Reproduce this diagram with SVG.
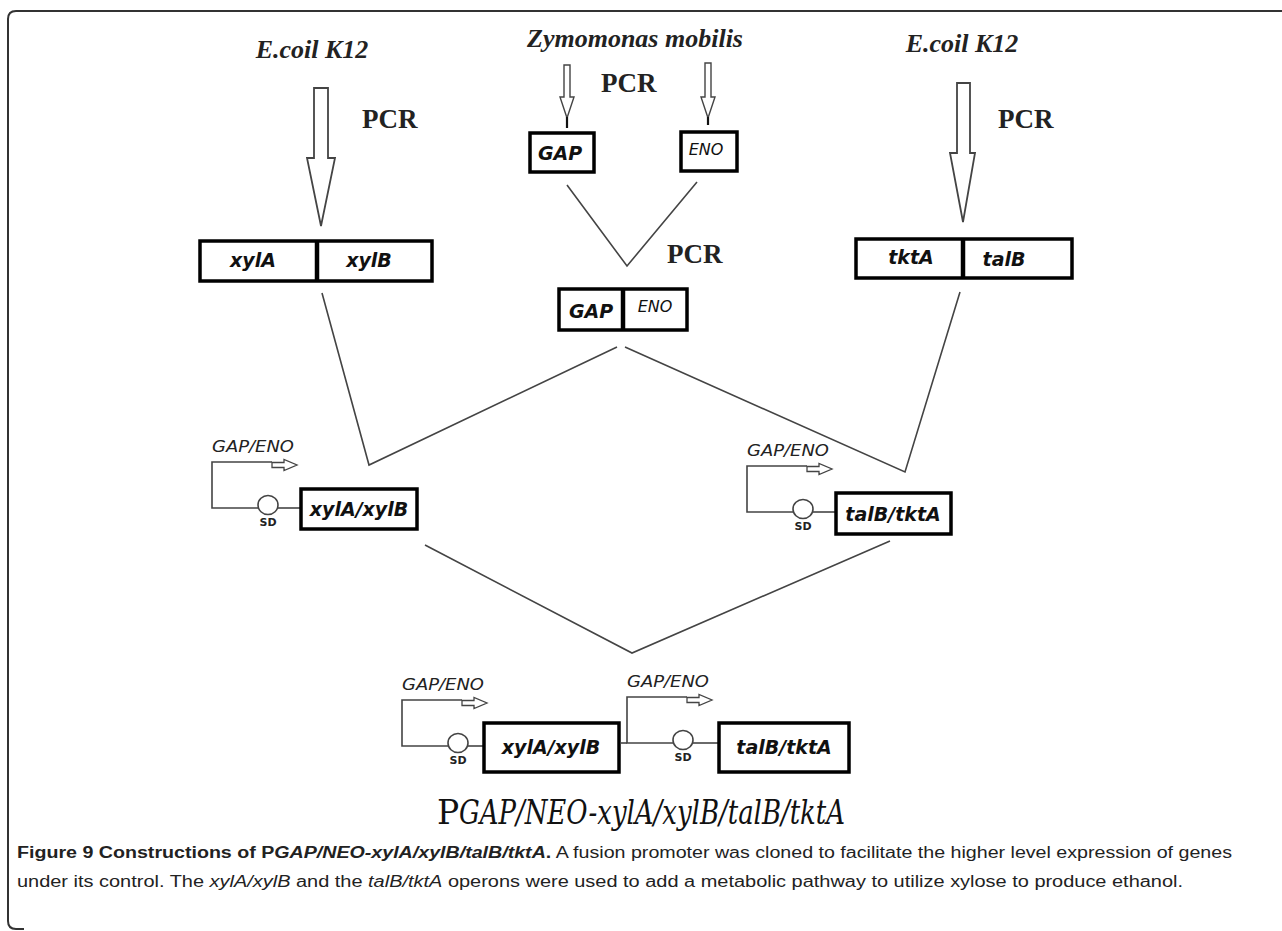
<svg xmlns="http://www.w3.org/2000/svg" xmlns:xlink="http://www.w3.org/1999/xlink" width="1282" height="931" viewBox="0 0 1282 931">
<style>
.box{fill:#fff;stroke:#000;stroke-width:3.5}
.div{stroke:#000;stroke-width:4.5}
.ln{stroke:#444;stroke-width:1.6;fill:none}
.harrow{fill:#fff;stroke:#444;stroke-width:1.8;stroke-linejoin:miter}
.gene{font-family:"DejaVu Sans",sans-serif;font-weight:bold;font-style:oblique;font-size:19px;text-anchor:middle;fill:#111}
.org{font-family:"Liberation Serif",serif;font-weight:bold;font-style:italic;font-size:26px;text-anchor:middle;fill:#222}
.pcr{font-family:"Liberation Serif",serif;font-weight:bold;font-size:27px;fill:#222}
.prom{font-family:"DejaVu Sans",sans-serif;font-style:oblique;font-size:16px;fill:#222}
.sd{font-family:"DejaVu Sans",sans-serif;font-weight:bold;font-size:11px;text-anchor:middle;fill:#222}
.title{font-family:"DejaVu Serif",serif;font-size:33px;fill:#111}
.cap{font-family:"Liberation Sans",sans-serif;font-size:16px;fill:#222}
</style>
<defs>
<g id="promoter">
<path class="ln" d="M 60 0 H 0 V 46 H 46"/>
<polygon class="harrow" points="60,0.5 72,0.5 72,-2.5 85,3 72,8.5 72,5.5 60,5.5" style="stroke-width:1.3"/>
<ellipse cx="56" cy="43" rx="10" ry="9.5" fill="#fff" stroke="#444" stroke-width="1.6"/>
<text class="prom" x="0" y="-10" textLength="82" lengthAdjust="spacingAndGlyphs">GAP/ENO</text>
<text class="sd" x="56" y="64">SD</text>
</g>
</defs>

<path d="M 1282 11 H 16 Q 8 11 8 19 V 921 Q 8 929 16 929 H 24" fill="none" stroke="#333" stroke-width="2"/>

<g id="source-left">
<text class="org" x="312" y="58">E.coil K12</text>
<polygon class="harrow" points="314,88 328,88 328,158 335,158 321,226 307,158 314,158"/>
<text class="pcr" x="362" y="128">PCR</text>
</g>

<g id="source-mid">
<text class="org" x="635" y="47">Zymomonas mobilis</text>
<polygon class="harrow" style="stroke-width:1.4" points="564,65 570,65 570,97 574,97 567,118 560,97 564,97"/>
<line x1="567" y1="117" x2="567" y2="128" stroke="#111" stroke-width="2.2"/>
<polygon class="harrow" style="stroke-width:1.4" points="705,63 711,63 711,97 715,97 708,118 701,97 705,97"/>
<line x1="708" y1="117" x2="708" y2="125" stroke="#111" stroke-width="2.2"/>
<text class="pcr" x="601" y="92">PCR</text>
</g>

<g id="source-right">
<text class="org" x="962" y="52">E.coil K12</text>
<polygon class="harrow" points="957,83 970,83 970,153 975,153 963,222 950,153 957,153"/>
<text class="pcr" x="998" y="128">PCR</text>
</g>

<g id="gap">
<rect class="box" x="530" y="133" width="64" height="39"/>
<text class="gene" x="560" y="160" font-size="20">GAP</text>
</g>

<g id="eno">
<rect class="box" x="681" y="132" width="56" height="39"/>
<text class="gene" x="706" y="155" style="font-weight:normal;font-size:16px">ENO</text>
</g>

<g id="xylA-xylB">
<rect class="box" x="200" y="241" width="232" height="40"/>
<line class="div" x1="317" y1="241" x2="317" y2="281"/>
<text class="gene" x="253" y="267">xylA</text>
<text class="gene" x="369" y="267">xylB</text>
</g>

<g id="tktA-talB">
<rect class="box" x="856" y="239" width="216" height="39"/>
<line class="div" x1="963" y1="239" x2="963" y2="278"/>
<text class="gene" x="911" y="264">tktA</text>
<text class="gene" x="1004" y="266">talB</text>
</g>

<g id="gap-eno">
<rect class="box" x="559" y="289" width="128" height="41"/>
<line class="div" x1="623" y1="289" x2="623" y2="330"/>
<text class="gene" x="591" y="318" font-size="20">GAP</text>
<text class="gene" x="655" y="312" style="font-weight:normal;font-size:16px">ENO</text>
<text class="pcr" x="667" y="263">PCR</text>
</g>

<g id="construct-xyl">
<use href="#promoter" xlink:href="#promoter" x="212" y="462"/>
<line class="ln" x1="278" y1="508" x2="300" y2="508"/>
<rect class="box" x="301" y="489" width="116" height="40"/>
<text class="gene" x="359" y="516">xylA/xylB</text>
</g>

<g id="construct-tal">
<use href="#promoter" xlink:href="#promoter" x="747" y="466"/>
<line class="ln" x1="812" y1="512" x2="835" y2="512"/>
<rect class="box" x="836" y="493" width="115" height="41"/>
<text class="gene" x="893" y="521">talB/tktA</text>
</g>

<g id="final-construct">
<use href="#promoter" xlink:href="#promoter" x="402" y="700"/>
<line class="ln" x1="467" y1="746" x2="483" y2="746"/>
<rect class="box" x="484" y="723" width="135" height="49"/>
<text class="gene" x="551" y="754">xylA/xylB</text>
<use href="#promoter" xlink:href="#promoter" x="627" y="697"/>
<line class="ln" x1="620" y1="743" x2="627" y2="743"/>
<line class="ln" x1="692" y1="743" x2="718" y2="743"/>
<rect class="box" x="719" y="723" width="130" height="49"/>
<text class="gene" x="784" y="754">talB/tktA</text>
</g>

<g id="connectors">
<polyline class="ln" points="567,185 627,266 697,182"/>
<polyline class="ln" points="322,293 369,465 617,347"/>
<polyline class="ln" points="960,292 905,472 625,347"/>
<polyline class="ln" points="425,545 632,653 890,541"/>
</g>

<g id="title">
<text class="title" x="437" y="824">P</text>
<text class="title" x="459" y="824" font-style="italic" textLength="386" lengthAdjust="spacingAndGlyphs">GAP/NEO-xylA/xylB/talB/tktA</text>
</g>

<g id="caption">
<text class="cap" x="17" y="858" textLength="1215" lengthAdjust="spacingAndGlyphs"><tspan font-weight="bold">Figure 9 Constructions of P<tspan font-style="italic">GAP/NEO-xylA/xylB/talB/tktA</tspan>.</tspan> A fusion promoter was cloned to facilitate the higher level expression of genes</text>
<text class="cap" x="17" y="887" textLength="1166" lengthAdjust="spacingAndGlyphs">under its control. The <tspan font-style="italic">xylA/xylB</tspan> and the <tspan font-style="italic">talB/tktA</tspan> operons were used to add a metabolic pathway to utilize xylose to produce ethanol.</text>
</g>
</svg>
